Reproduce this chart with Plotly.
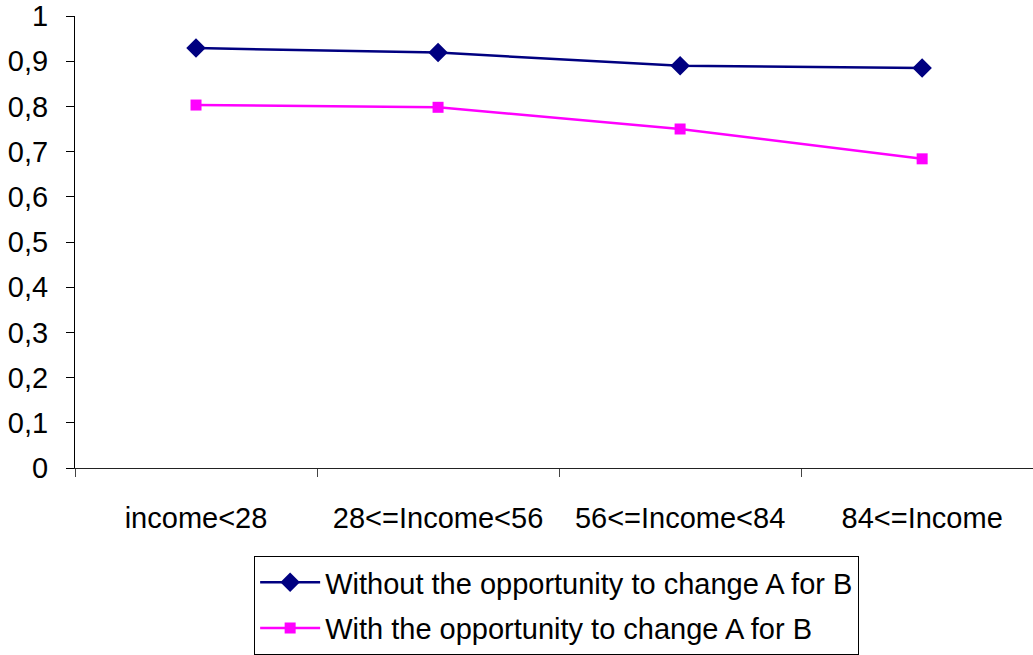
import plotly.graph_objects as go

# Income brackets and the share observed in each, for the two scenarios
categories = ["income<28", "28<=Income<56", "56<=Income<84", "84<=Income"]
without_change = [0.929, 0.919, 0.890, 0.885]
with_change = [0.803, 0.798, 0.750, 0.684]

series_names = [
    "Without the opportunity to change A for B",
    "With the opportunity to change A for B",
]

y_tickvals = [0, 0.1, 0.2, 0.3, 0.4, 0.5, 0.6, 0.7, 0.8, 0.9, 1]
y_ticktext = ["0", "0,1", "0,2", "0,3", "0,4", "0,5", "0,6", "0,7", "0,8", "0,9", "1"]

FONT = "Arial, Liberation Sans, sans-serif"
positions = list(range(len(categories)))
boundaries = [p - 0.5 for p in positions] + [positions[-1] + 0.5]

fig = go.Figure()
fig.add_trace(go.Scatter(
    x=positions, y=without_change, name=series_names[0],
    mode="lines+markers", legendgroup="a",
    line=dict(color="#000080", width=2.5),
    marker=dict(symbol="diamond", size=15, color="#000080"),
))
fig.add_trace(go.Scatter(
    x=positions, y=with_change, name=series_names[1],
    mode="lines+markers", legendgroup="b",
    line=dict(color="#FF00FF", width=2.5),
    marker=dict(symbol="square", size=11, color="#FF00FF"),
))
# invisible trace carrying the category-boundary tick marks
fig.add_trace(go.Scatter(x=boundaries, y=[None] * len(boundaries), xaxis="x2",
                         showlegend=False, hoverinfo="skip"))

x_range = [-0.5, 3.458]
fig.update_layout(
    width=1033, height=655,
    margin=dict(l=75, r=0, t=16, b=186),
    paper_bgcolor="white", plot_bgcolor="white",
    font=dict(family=FONT, size=29, color="black"),
    showlegend=True,
    legend=dict(
        x=0.187, y=-0.194, xanchor="left", yanchor="top",
        bgcolor="white", bordercolor="black", borderwidth=1,
        font=dict(family=FONT, size=29, color="black"),
        traceorder="grouped", tracegroupgap=5,
        itemwidth=60,
    ),
    xaxis=dict(
        range=x_range, tickvals=positions, ticktext=categories,
        ticks="", showgrid=False, zeroline=False,
        showline=True, linecolor="#222", linewidth=1,
        ticklabelstandoff=24,
    ),
    xaxis2=dict(
        range=x_range, overlaying="x", anchor="y", side="bottom",
        tickvals=boundaries, ticks="outside", ticklen=8, tickcolor="#444",
        showticklabels=False, showgrid=False, zeroline=False, showline=False,
    ),
    yaxis=dict(
        range=[0, 1], tickvals=y_tickvals, ticktext=y_ticktext,
        ticks="outside", ticklen=8, tickcolor="black",
        showgrid=False, zeroline=False,
        showline=True, linecolor="black", linewidth=1,
        ticklabelstandoff=12,
    ),
)

fig.write_html("out.html")
